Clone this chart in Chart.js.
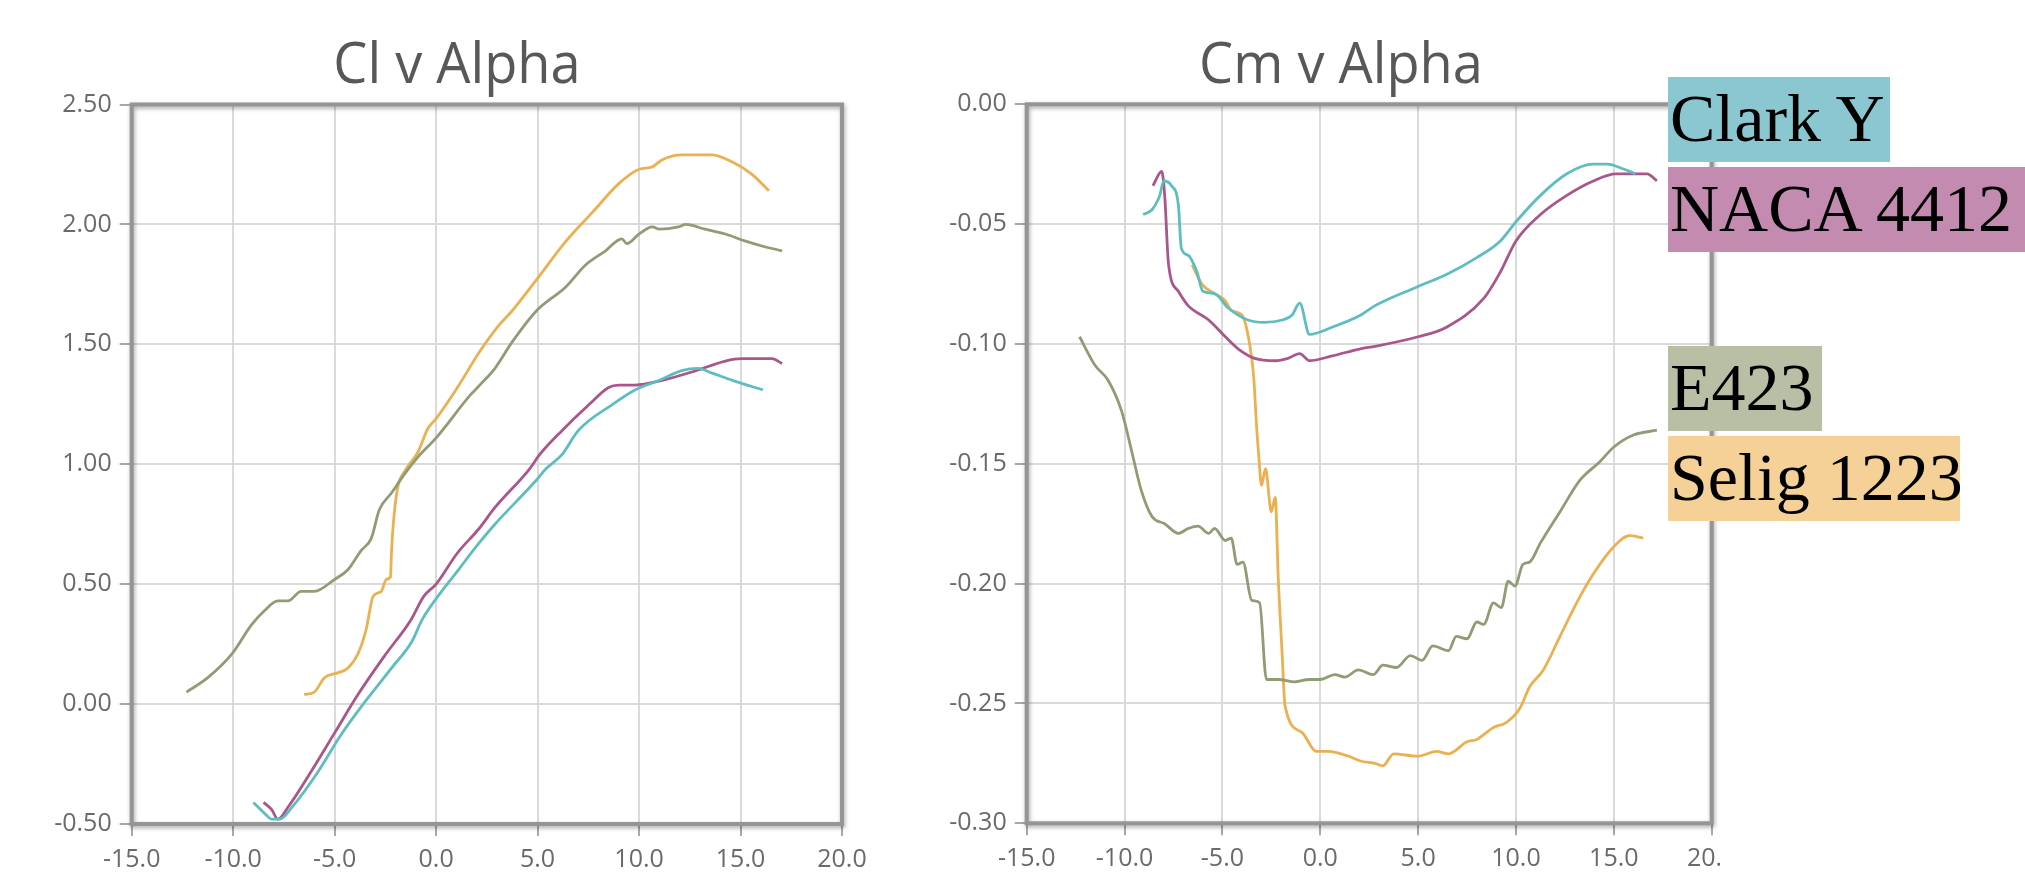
<!DOCTYPE html>
<html>
<head>
<meta charset="utf-8">
<script src="https://cdn.jsdelivr.net/npm/chart.js@4.4.1/dist/chart.umd.min.js"></script>
<style>
  html, body { margin: 0; padding: 0; background: #fff; }
  body { width: 2025px; height: 876px; position: relative; overflow: hidden; }
  .panel { position: absolute; top: 0; height: 876px; overflow: hidden; background: #fff; }
  #leftPanel { left: 0; width: 868px; }
  #rightPanel { left: 868px; width: 852px; }
  .title { position: absolute; top: 33px; font-family: 'Open Sans', sans-serif; font-size: 57px;
           line-height: 57px; color: #585858; white-space: nowrap; transform: translateX(-50%) scaleX(0.95); }
  .key { position: absolute; left: 1668px; height: 85px; font-family: 'Liberation Serif', 'Times New Roman', serif;
         font-size: 68px; line-height: 82px; color: #000; padding-left: 2px; box-sizing: border-box;
         white-space: nowrap; overflow: hidden; }
</style>
</head>
<body>
<div class="panel" id="leftPanel"><canvas id="clChart" width="868" height="876"></canvas></div>
<div class="panel" id="rightPanel"><canvas id="cmChart" width="852" height="876"></canvas></div>
<div class="title" style="left:457px">Cl v Alpha</div>
<div class="title" style="left:1341px">Cm v Alpha</div>
<div class="key" style="top:77px;width:222px;background:#8bc7d0">Clark Y</div>
<div class="key" style="top:167px;width:357px;background:#c38baf">NACA 4412</div>
<div class="key" style="top:346px;width:154px;background:#b9bfa5">E423</div>
<div class="key" style="top:436px;width:292px;background:#f5d197">Selig 1223</div>
<script>
// series names and line colours
const airfoils = ['Clark Y', 'NACA 4412', 'E423', 'Selig 1223'];
const lineColors = ['#5dbdc1', '#a9568b', '#8f9c74', '#ebb04f'];

// Cl v Alpha
const clarkClAlpha = [-9.0, -8.4, -8.1, -7.7, -7.1, -5.8, -4.7, -3.5, -2.2, -1.2, -0.7, -0.25, 1.1, 2.1, 2.9, 4.9, 5.4, 6.2, 7.0, 8.7, 9.8, 11.0, 12.1, 12.9, 13.6, 14.6, 16.1];
const clarkCl = [-0.41, -0.46, -0.48, -0.48, -0.43, -0.28, -0.13, 0.01, 0.15, 0.26, 0.35, 0.41, 0.56, 0.67, 0.75, 0.93, 0.98, 1.04, 1.14, 1.25, 1.31, 1.35, 1.39, 1.40, 1.38, 1.35, 1.31];

const nacaClAlpha = [-8.5, -8.1, -7.8, -7.3, -6.15, -5.0, -3.85, -2.55, -1.25, -0.6, 0.0, 1.05, 2.1, 2.9, 4.6, 5.1, 6.2, 7.55, 8.5, 9.0, 9.8, 11.15, 12.8, 14.25, 15.05, 15.55, 16.55, 17.05];
const nacaCl = [-0.41, -0.44, -0.48, -0.43, -0.28, -0.12, 0.04, 0.20, 0.35, 0.45, 0.50, 0.63, 0.73, 0.82, 0.98, 1.04, 1.14, 1.25, 1.32, 1.33, 1.33, 1.35, 1.39, 1.43, 1.44, 1.44, 1.44, 1.42];

const e423ClAlpha = [-12.3, -11.25, -10.05, -9.1, -8.45, -7.8, -7.3, -6.65, -6.0, -5.0, -4.35, -3.7, -3.2, -2.8, -2.2, -1.55, -0.9, 0.0, 1.7, 2.15, 2.9, 3.75, 4.95, 6.4, 7.35, 8.35, 9.15, 9.4, 10.0, 10.65, 11.0, 11.95, 12.3, 13.25, 14.25, 15.25, 16.05, 17.05];
const e423Cl = [0.05, 0.11, 0.21, 0.33, 0.39, 0.43, 0.43, 0.47, 0.47, 0.52, 0.56, 0.64, 0.69, 0.81, 0.88, 0.96, 1.03, 1.11, 1.29, 1.33, 1.40, 1.51, 1.64, 1.74, 1.83, 1.89, 1.94, 1.92, 1.96, 1.99, 1.98, 1.99, 2.00, 1.98, 1.96, 1.93, 1.91, 1.89];

const seligClAlpha = [-6.5, -6.0, -5.5, -4.85, -4.35, -3.85, -3.45, -3.1, -2.7, -2.45, -2.25, -2.2, -2.1, -1.9, -1.55, -0.9, -0.4, 0.0, 1.05, 2.15, 3.1, 3.75, 4.95, 6.4, 7.7, 9.0, 10.0, 10.65, 11.15, 12.1, 12.8, 13.6, 14.6, 15.55, 16.4];
const seligCl = [0.04, 0.05, 0.11, 0.13, 0.15, 0.21, 0.31, 0.45, 0.47, 0.52, 0.53, 0.63, 0.76, 0.90, 0.97, 1.05, 1.15, 1.19, 1.32, 1.47, 1.58, 1.64, 1.77, 1.93, 2.05, 2.17, 2.23, 2.24, 2.27, 2.29, 2.29, 2.29, 2.26, 2.21, 2.14];

// Cm v Alpha
const clarkCmAlpha = [-9.05, -8.6, -8.2, -8.0, -7.6, -7.25, -7.1, -6.75, -6.3, -6.0, -5.4, -4.7, -3.7, -2.85, -1.95, -1.45, -1.05, -0.55, 0.6, 2.05, 2.8, 5.0, 6.45, 8.0, 9.2, 10.0, 11.25, 12.6, 13.95, 14.65, 15.5, 16.1];
const clarkCm = [-0.046, -0.044, -0.038, -0.032, -0.034, -0.042, -0.060, -0.063, -0.070, -0.078, -0.079, -0.085, -0.090, -0.091, -0.090, -0.088, -0.083, -0.096, -0.093, -0.088, -0.084, -0.076, -0.071, -0.064, -0.057, -0.049, -0.038, -0.029, -0.025, -0.025, -0.027, -0.029];

const nacaCmAlpha = [-8.55, -8.1, -7.95, -7.75, -7.25, -6.75, -5.7, -4.85, -4.2, -3.35, -2.3, -1.65, -1.05, -0.55, 0.6, 2.05, 2.8, 5.0, 6.45, 8.35, 9.2, 10.0, 11.25, 12.6, 13.95, 15.1, 16.15, 16.7, 17.2];
const nacaCm = [-0.034, -0.028, -0.038, -0.067, -0.078, -0.084, -0.090, -0.097, -0.102, -0.106, -0.107, -0.106, -0.104, -0.107, -0.105, -0.102, -0.101, -0.097, -0.093, -0.081, -0.070, -0.057, -0.046, -0.038, -0.032, -0.029, -0.029, -0.029, -0.032];

const e423CmAlpha = [-12.3, -11.5, -10.85, -10.15, -9.6, -9.15, -8.6, -7.95, -7.25, -6.75, -6.25, -5.7, -5.4, -4.85, -4.55, -4.25, -3.95, -3.5, -3.1, -2.75, -2.15, -1.3, -0.6, 0.0, 0.75, 1.25, 1.95, 2.7, 3.2, 3.9, 4.6, 5.2, 5.75, 6.55, 6.95, 7.5, 8.0, 8.35, 8.85, 9.25, 9.6, 9.95, 10.35, 10.7, 11.25, 12.25, 13.25, 14.3, 15.0, 16.0, 17.2];
const e423Cm = [-0.097, -0.109, -0.115, -0.128, -0.146, -0.161, -0.172, -0.175, -0.179, -0.177, -0.176, -0.179, -0.177, -0.182, -0.181, -0.192, -0.191, -0.207, -0.208, -0.240, -0.240, -0.241, -0.240, -0.240, -0.238, -0.239, -0.236, -0.238, -0.234, -0.235, -0.230, -0.232, -0.226, -0.228, -0.222, -0.223, -0.216, -0.217, -0.208, -0.210, -0.199, -0.201, -0.192, -0.191, -0.183, -0.170, -0.157, -0.149, -0.143, -0.138, -0.136];

const seligCmAlpha = [-6.55, -6.05, -5.4, -4.85, -4.55, -4.0, -3.7, -3.4, -3.25, -3.15, -3.0, -2.8, -2.5, -2.3, -2.15, -1.95, -1.8, -0.95, -0.2, 0.4, 1.45, 2.05, 2.8, 3.2, 3.75, 5.0, 5.95, 6.55, 7.5, 8.0, 8.85, 9.5, 10.2, 10.7, 11.4, 12.25, 13.1, 13.95, 14.95, 15.8, 16.5];
const seligCm = [-0.067, -0.075, -0.079, -0.082, -0.086, -0.088, -0.096, -0.114, -0.135, -0.146, -0.159, -0.152, -0.170, -0.164, -0.197, -0.229, -0.251, -0.262, -0.270, -0.270, -0.272, -0.274, -0.275, -0.276, -0.271, -0.272, -0.270, -0.271, -0.266, -0.265, -0.260, -0.258, -0.252, -0.243, -0.236, -0.222, -0.208, -0.196, -0.185, -0.180, -0.181];

const tickFont = { family: "'Open Sans', sans-serif", size: 25 };
const tickColor = '#6a6a6a';

// grey frame round the plot area, with a soft shadow
const framePlugin = {
    id: 'frame',
    beforeDatasetsDraw(chart) {
        const { ctx, chartArea: a } = chart;
        ctx.save();
        ctx.shadowColor = 'rgba(0,0,0,0.35)';
        ctx.shadowBlur = 4;
        ctx.shadowOffsetX = 1;
        ctx.shadowOffsetY = 2;
        ctx.strokeStyle = '#959595';
        ctx.lineWidth = 4;
        ctx.strokeRect(a.left, a.top, a.width, a.height);
        ctx.restore();
    }
};

function toPoints(xs, ys) {
    return xs.map((x, i) => ({ x: x, y: ys[i] }));
}

function makeChart(id, pairs, yMin, yMax, yStep, box) {
    const canvas = document.getElementById(id);
    const W = canvas.width, H = canvas.height;
    return new Chart(canvas.getContext('2d'), {
        type: 'scatter',
        data: {
            datasets: pairs.map((p, i) => ({
                label: airfoils[i],
                data: toPoints(p[0], p[1]),
                showLine: true,
                borderColor: lineColors[i],
                borderWidth: 2.8,
                pointRadius: 0,
                fill: false,
                cubicInterpolationMode: 'monotone'
            }))
        },
        options: {
            responsive: false,
            animation: false,
            layout: { padding: { left: 0, top: box.top, right: W - box.right, bottom: 0 } },
            plugins: { legend: { display: false }, tooltip: { enabled: false } },
            scales: {
                x: {
                    type: 'linear', min: -15, max: 20,
                    ticks: { stepSize: 5, font: tickFont, color: tickColor, padding: 9,
                             maxRotation: 0, minRotation: 0, autoSkip: false,
                             callback: v => v.toFixed(1) },
                    grid: { color: '#dadada', lineWidth: 2, tickLength: 12, tickColor: '#a8a8a8', tickWidth: 2 },
                    border: { display: false },
                    afterFit(s) { s.height = H - box.bottom; s.paddingLeft = 0; s.paddingRight = 0; }
                },
                y: {
                    min: yMin, max: yMax,
                    ticks: { stepSize: yStep, font: tickFont, color: tickColor, padding: 8,
                             callback: v => v.toFixed(2) },
                    grid: { color: '#dadada', lineWidth: 2, tickLength: 12, tickColor: '#a8a8a8', tickWidth: 2 },
                    border: { display: false },
                    afterFit(s) { s.width = box.left; s.paddingTop = 0; s.paddingBottom = 0; }
                }
            }
        },
        plugins: [framePlugin]
    });
}

makeChart('clChart', [
    [clarkClAlpha, clarkCl],
    [nacaClAlpha, nacaCl],
    [e423ClAlpha, e423Cl],
    [seligClAlpha, seligCl]
], -0.5, 2.5, 0.5, { left: 131.7, right: 842, top: 104.5, bottom: 824 });

makeChart('cmChart', [
    [clarkCmAlpha, clarkCm],
    [nacaCmAlpha, nacaCm],
    [e423CmAlpha, e423Cm],
    [seligCmAlpha, seligCm]
], -0.3, 0, 0.05, { left: 158.7, right: 843.7, top: 104.3, bottom: 823.3 });
</script>
</body>
</html>
